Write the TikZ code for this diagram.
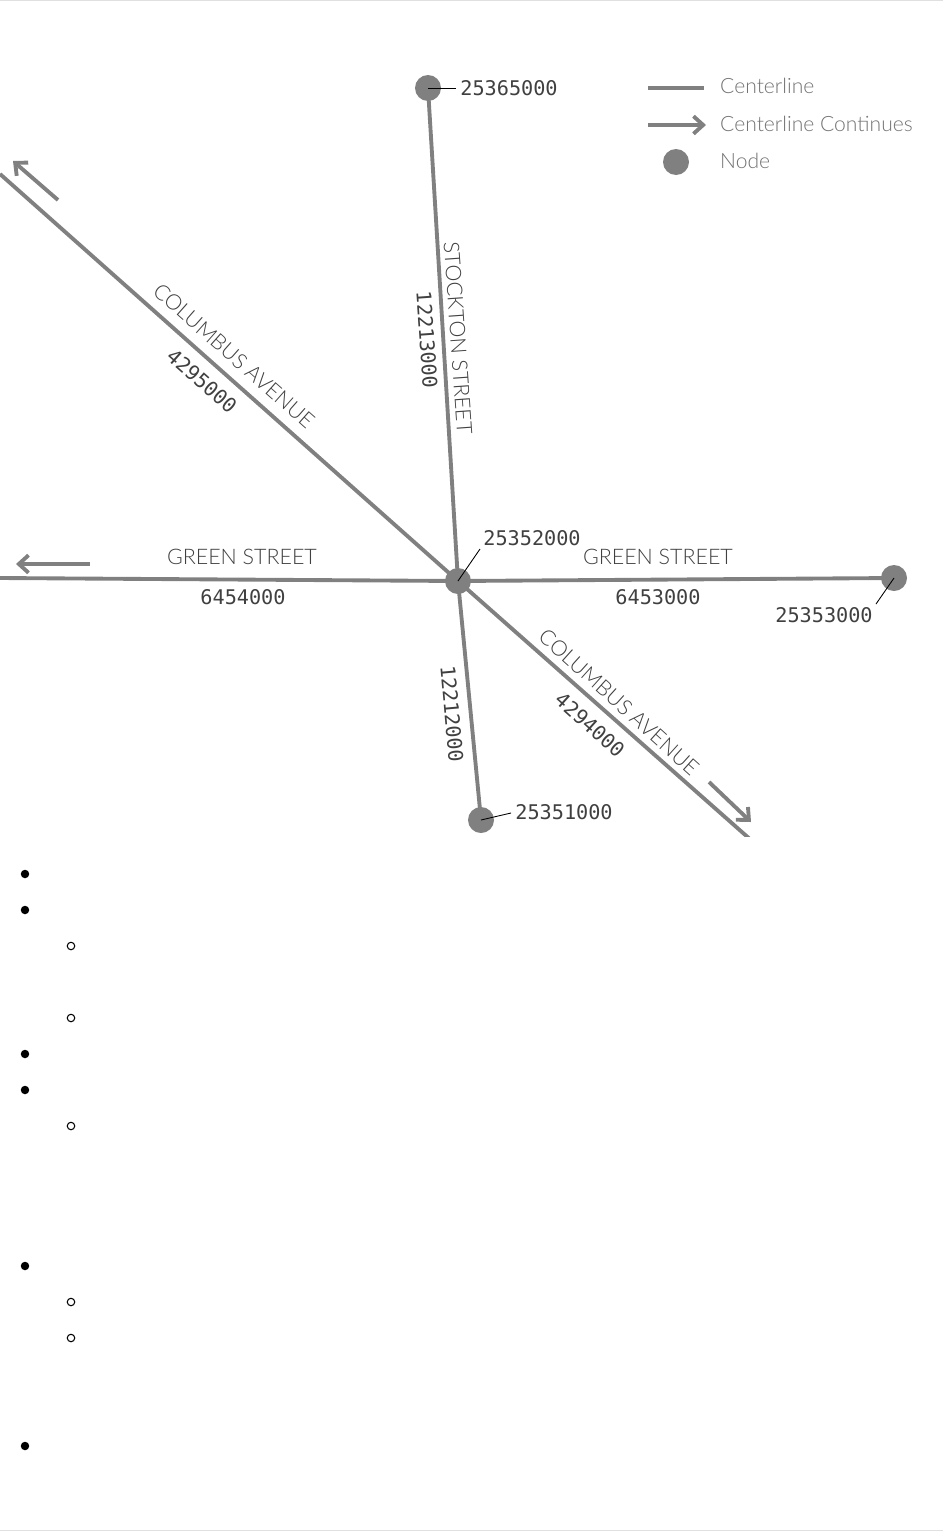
\documentclass[tikz,border=0pt]{standalone}
\usepackage{fontspec}
\usetikzlibrary{arrows.meta}
\setmainfont{Lato}[UprightFont=* Light]
\setmonofont{DejaVu Sans Mono}
\definecolor{linegray}{HTML}{808080}
\definecolor{labelgray}{HTML}{404040}
\begin{document}
\begin{tikzpicture}[x=0.02cm, y=-0.02cm,
        centerline/.style={draw=linegray, line width=2.2pt},
        continues/.style={-{Straight Barb[length=5.5pt, width=10pt, line width=2.2pt]}, draw=linegray, line width=2.2pt},
        streetnode/.style={circle, fill=linegray, inner sep=0pt, minimum size=0.52cm},
        leader/.style={draw=black, line width=0.5pt},
        streetname/.style={text=labelgray, font=\fontsize{12.2}{14}\selectfont},
        idlabel/.style={text=black!75, font=\ttfamily\fontsize{11.5}{14}\selectfont},
        legendlabel/.style={text=black!55, anchor=west, font=\fontsize{12}{14}\selectfont},
        solidbullet/.style={circle, fill=black, inner sep=0pt, minimum size=0.17cm},
        openbullet/.style={circle, draw=black, line width=0.6pt, fill=white, inner sep=0pt, minimum size=0.15cm}
    ]
        \useasboundingbox (0,0) rectangle (943,1532);
        % Page edges
        \draw[black!12, line width=0.5pt] (0,0.5) -- (943,0.5);
        \draw[black!12, line width=0.5pt] (0,1530.5) -- (943,1530.5);

        % Free ends
        \coordinate (nw_end) at (0,174);
        \coordinate (w_end) at (0,578);
        \coordinate (se_end) at (760,848);

        % Nodes
        \node (n_center) [streetnode] at (458,581) {};
        \node (n_north) [streetnode] at (428,88) {};
        \node (n_east) [streetnode] at (894,578) {};
        \node (n_south) [streetnode] at (481,820) {};

        % Centerlines
        \begin{scope}
            \clip (0,0) rectangle (943,836.5);
            \draw[centerline] (n_center.center) -- (se_end);
        \end{scope}
        \draw[centerline] (n_center.center) -- (nw_end);
        \draw[centerline] (n_center.center) -- (w_end);
        \draw[centerline] (n_center.center) -- (n_north.center);
        \draw[centerline] (n_center.center) -- (n_east.center);
        \draw[centerline] (n_center.center) -- (n_south.center);

        % Continuation arrows
        \coordinate (a1s) at (58,200); \coordinate (a1e) at (13,161);
        \coordinate (a2s) at (90,564); \coordinate (a2e) at (16,564);
        \coordinate (a3s) at (709,782); \coordinate (a3e) at (751,822);
        \draw[continues] (a1s) -- (a1e);
        \draw[continues] (a2s) -- (a2e);
        \draw[continues] (a3s) -- (a3e);

        % Street names
        \node (s_stockton) [streetname, rotate=-86] at (458,338) {STOCKTON STREET};
        \node (s_col_nw) [streetname, rotate=-41.5] at (234,356) {COLUMBUS AVENUE};
        \node (s_col_se) [streetname, rotate=-42] at (619,702) {COLUMBUS AVENUE};
        \node (s_green_w) [streetname] at (242,557) {GREEN STREET};
        \node (s_green_e) [streetname] at (658,557) {GREEN STREET};

        % Centerline ids
        \node (c_12213) [idlabel, rotate=-86] at (427,340) {12213000};
        \node (c_4295) [idlabel, rotate=-41.5] at (202,381) {4295000};
        \node (c_6454) [idlabel] at (243,597) {6454000};
        \node (c_6453) [idlabel] at (658,597) {6453000};
        \node (c_12212) [idlabel, rotate=-85] at (452,714) {12212000};
        \node (c_4294) [idlabel, rotate=-42] at (590,725) {4294000};

        % Node ids
        \node (i_north) [idlabel] at (509,88) {25365000};
        \node (i_center) [idlabel] at (532,538) {25352000};
        \node (i_east) [idlabel] at (824,615) {25353000};
        \node (i_south) [idlabel] at (564,812) {25351000};
        \coordinate (l_north) at (456,88);
        \coordinate (l_center) at (480,549);
        \coordinate (l_east) at (876,604);
        \coordinate (l_south) at (511,813);
        \draw[leader] (n_north.center) -- (l_north);
        \draw[leader] (n_center.center) -- (l_center);
        \draw[leader] (n_east.center) -- (l_east);
        \draw[leader] (n_south.center) -- (l_south);

        % Legend
        \coordinate (k1s) at (648,88); \coordinate (k1e) at (704,88);
        \coordinate (k2s) at (648,125); \coordinate (k2e) at (706,125);
        \draw[centerline] (k1s) -- (k1e);
        \draw[continues] (k2s) -- (k2e);
        \node (k_node) [streetnode] at (676,162) {};
        \node (k1) [legendlabel] at (714,86) {Centerline};
        \node (k2) [legendlabel] at (714,124) {Centerline Continues};
        \node (k3) [legendlabel] at (714,161) {Node};

        % List bullets
        \foreach \y in {874,910,1054,1090,1266,1446}
            \node (b\y) [solidbullet] at (25,\y) {};
        \foreach \y in {946,1018,1126,1302,1338}
            \node (o\y) [openbullet] at (71,\y) {};
\end{tikzpicture}
\end{document}
